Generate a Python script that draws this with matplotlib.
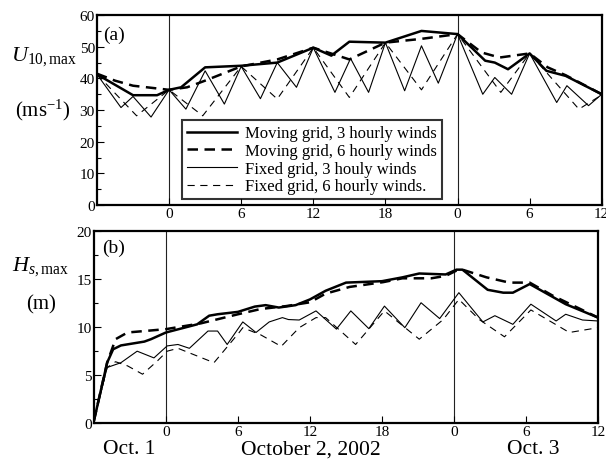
import matplotlib
matplotlib.use('Agg')
import matplotlib.pyplot as plt
from matplotlib.ticker import MultipleLocator

plt.rcParams['font.family'] = ['Liberation Serif', 'DejaVu Serif']
plt.rcParams['mathtext.fontset'] = 'custom'
plt.rcParams['mathtext.rm'] = 'Liberation Serif'
plt.rcParams['mathtext.it'] = 'Liberation Serif:italic'

# hours relative to Oct 2 00:00
xtick_pos = [0, 6, 12, 18, 24, 30, 36]
xtick_lab = ['0', '6', '12', '18', '0', '6', '12']
legend_lab = ['Moving grid, 3 hourly winds', 'Moving grid, 6 hourly winds',
              'Fixed grid, 3 houly winds', 'Fixed grid, 6 hourly winds.']

# (a) U10,max
u_mov3_t = [-6, -3, -1, 0, 1, 3, 6, 9, 12, 13.5, 15, 18, 21, 24, 26.3, 27.1, 28.2, 30, 31.4, 33, 36]
u_mov3 = [41.3, 34.7, 34.7, 36.4, 37.2, 43.5, 44.0, 45.0, 49.7, 47.2, 51.6, 51.3, 55.0, 54.0,
          45.6, 45.0, 42.9, 47.9, 42.4, 40.8, 35.0]
u_mov6_t = [-6, -4.5, -3, 0, 1.5, 3, 6, 9, 12, 15, 18, 21, 24, 26, 27.5, 30, 31.5, 33, 36]
u_mov6 = [41.5, 39.3, 37.7, 36.4, 37.2, 39.3, 43.8, 46.0, 49.7, 46.0, 51.3, 52.5, 54.0,
          48.2, 46.6, 47.9, 43.5, 41.0, 35.0]
u_fix3_t = [-6, -4, -3, -1.5, 0, 1.4, 3, 4.6, 6, 7.6, 9, 10.6, 12, 13.8, 15.1, 16.6, 18, 19.6,
            21, 22.4, 24, 26.1, 27.1, 28.5, 30, 32.25, 33.1, 34.9, 36]
u_fix3 = [41.3, 30.8, 34.3, 27.8, 36.4, 30.3, 42.4, 31.9, 43.8, 33.6, 45.0, 37.2, 49.7, 35.6,
          46.3, 35.6, 51.3, 36.1, 50.3, 38.5, 54.0, 35.0, 40.3, 35.0, 47.9, 32.4, 37.7, 31.4, 35.0]
u_fix6_t = [-6, -2.7, 0, 2.8, 6, 9, 12, 15, 18, 21, 24, 27.6, 30, 34.1, 36]
u_fix6 = [41.3, 28.2, 36.4, 28.2, 43.8, 33.5, 49.7, 34.0, 51.3, 36.4, 54.0, 35.6, 47.9, 30.3, 34.8]

# (b) Hs,max
h_mov3_t = [-6, -4.9, -4.4, -3.75, -1.8, -1.25, 0, 2.6, 3.6, 4.3, 6, 7.4, 8.3, 9.4, 10.8, 12,
            13.3, 15, 18, 19.7, 21.1, 23.3, 24.2, 24.7, 26.8, 28.1, 28.9, 30.3, 33.3, 36]
h_mov3 = [0.25, 6.3, 7.7, 8.1, 8.5, 8.75, 9.45, 10.3, 11.2, 11.35, 11.6, 12.15, 12.3, 12.05,
          12.3, 12.9, 13.8, 14.65, 14.8, 15.2, 15.6, 15.5, 16.0, 16.0, 13.9, 13.6, 13.6, 14.5,
          12.4, 11.0]
h_mov6_t = [-6, -4.9, -4.2, -3.2, -1.8, 0, 2.9, 6, 7.9, 10, 12, 13.3, 15.3, 18.1, 19.7, 22.1,
            23.3, 24.2, 24.7, 26.7, 28.6, 30.3, 32.2, 36]
h_mov6 = [0.25, 6.3, 8.75, 9.45, 9.6, 9.8, 10.4, 11.35, 11.9, 12.2, 12.6, 13.5, 14.2, 14.7,
          15.1, 15.1, 15.35, 15.9, 16.0, 15.2, 14.65, 14.65, 13.3, 11.0]
h_fix3_t = [-6, -4.9, -3.75, -2.4, -1, 0.1, 1, 1.95, 3.5, 4.3, 5.1, 6.4, 7.5, 8.6, 9.7, 10.2,
            11.1, 12.5, 14.2, 15.4, 16.9, 18.2, 19.9, 21.25, 22.8, 24.4, 26.4, 27.4, 28.9, 30.4,
            32.5, 33.3, 34.7, 36]
h_fix3 = [0.25, 5.8, 6.3, 7.5, 6.8, 8.05, 8.2, 7.8, 9.6, 9.6, 8.2, 10.55, 9.45, 10.55, 11.0,
          10.8, 10.75, 11.7, 9.8, 11.7, 9.85, 12.2, 9.95, 12.55, 10.9, 13.6, 10.55, 11.2, 10.3,
          12.4, 10.65, 11.35, 10.75, 10.65]
h_fix6_t = [-6, -4.9, -4.2, -3.2, -1.95, -0.7, 0.1, 1, 4, 6.1, 6.4, 7.9, 9.6, 11.1, 12.5, 13.3,
            15.8, 18.2, 21.1, 23.1, 24.4, 26.1, 28.2, 30.4, 33.6, 36]
h_fix6 = [0.25, 5.8, 6.4, 5.97, 5.1, 6.5, 7.5, 7.8, 6.3, 9.45, 9.95, 9.2, 8.0, 9.95, 11.0, 11.0,
          8.2, 11.7, 8.75, 10.8, 12.9, 10.8, 9.0, 11.8, 9.45, 9.95]

fig = plt.figure(figsize=(6.06, 4.60), dpi=100)
ax1 = fig.add_axes([0.160, 0.552, 0.833, 0.413])
ax2 = fig.add_axes([0.155, 0.078, 0.832, 0.417])

def draw(ax, d):
    thick_dash = (0, (4.2, 2.6))
    thin_dash = (0, (6.5, 5.0))
    ax.axvline(0, color='#222222', lw=0.8, zorder=1)
    ax.axvline(24, color='#222222', lw=0.8, zorder=1)
    ax.plot(d[0][0], d[0][1], color='black', lw=1.8, label=legend_lab[0])
    ax.plot(d[1][0], d[1][1], color='black', lw=1.8, ls=thick_dash, label=legend_lab[1])
    ax.plot(d[2][0], d[2][1], color='black', lw=0.8, label=legend_lab[2])
    ax.plot(d[3][0], d[3][1], color='black', lw=0.8, ls=thin_dash, label=legend_lab[3])
    ax.set_xlim(-6, 36)
    ax.set_xticks(xtick_pos)
    ax.set_xticklabels(xtick_lab)
    ax.tick_params(which='both', direction='in', top=False, right=False,
                   labelsize=11, pad=1.5)
    ax.tick_params(which='major', length=5, width=0.8)
    ax.tick_params(which='minor', length=3, width=0.8)
    for s in ax.spines.values():
        s.set_linewidth(1.6)

draw(ax1, [(u_mov3_t, u_mov3), (u_mov6_t, u_mov6), (u_fix3_t, u_fix3), (u_fix6_t, u_fix6)])
ax1.set_ylim(0, 60)
ax1.yaxis.set_major_locator(MultipleLocator(10))
ax1.yaxis.set_minor_locator(MultipleLocator(5))
ax1.text(0.012, 0.90, '(a)', transform=ax1.transAxes, fontsize=14, va='center')
leg = ax1.legend(loc='lower left', bbox_to_anchor=(0.168, 0.03), fontsize=12,
                 frameon=True, fancybox=False, edgecolor='black', handlelength=3.0,
                 borderpad=0.3, labelspacing=0.1, handletextpad=0.5, borderaxespad=0)
leg.get_frame().set_linewidth(1.5)

draw(ax2, [(h_mov3_t, h_mov3), (h_mov6_t, h_mov6), (h_fix3_t, h_fix3), (h_fix6_t, h_fix6)])
ax2.set_ylim(0, 20)
ax2.yaxis.set_major_locator(MultipleLocator(5))
ax2.yaxis.set_minor_locator(MultipleLocator(2.5))
ax2.text(0.016, 0.915, '(b)', transform=ax2.transAxes, fontsize=14, va='center')

# axis titles
fig.text(0.018, 0.876, r'$U_{\mathrm{10,max}}$', fontsize=16, va='center', ha='left')
fig.text(0.025, 0.761, r'(ms$^{\mathrm{-1}}$)', fontsize=15, va='center', ha='left')
fig.text(0.020, 0.420, r'$H_{s,\mathrm{max}}$', fontsize=16, va='center', ha='left')
fig.text(0.043, 0.337, '(m)', fontsize=15, va='center', ha='left')

# day labels under lower panel
day_lab = ['Oct. 1', 'October 2, 2002', 'Oct. 3']
day_pos = [-3.1, 12.1, 30.6]
for p, s in zip(day_pos, day_lab):
    ax2.text(p, -0.158, s, transform=ax2.get_xaxis_transform(), fontsize=15.5,
             ha='center', va='baseline')

plt.savefig('out.png', dpi=100)
